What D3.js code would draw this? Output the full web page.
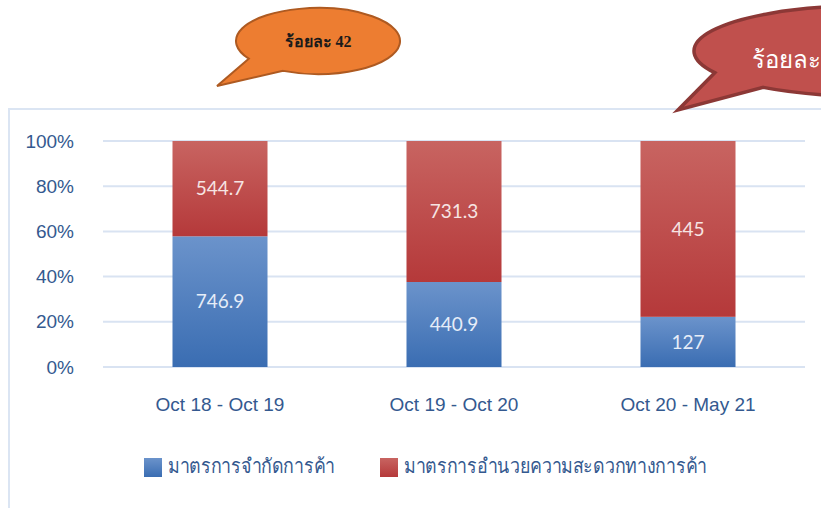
<!DOCTYPE html>
<html>
<head>
<meta charset="utf-8">
<script src="https://cdn.jsdelivr.net/npm/d3@7"></script>
<style>
  body { margin: 0; background: #fff; }
  svg { display: block; font-family: Lato, "Noto Sans", sans-serif; }
</style>
</head>
<body>
<div id="chart"></div>
<script>
// categories and series
const periods = ["Oct 18 - Oct 19", "Oct 19 - Oct 20", "Oct 20 - May 21"];
const restrictValues = [746.9, 440.9, 127];
const facilitateValues = [544.7, 731.3, 445];
const seriesNames = ["มาตรการจำกัดการค้า", "มาตรการอำนวยความสะดวกทางการค้า"];
const yTicks = [0, 0.2, 0.4, 0.6, 0.8, 1];
const calloutLeft = "ร้อยละ 42";
const calloutRight = "ร้อยละ";

const W = 821, H = 508;
const textColor = "#34598f";
const svg = d3.select("#chart").append("svg")
    .attr("width", W)
    .attr("height", H);

const defs = svg.append("defs");
const gradBlue = defs.append("linearGradient").attr("id", "gBlue")
    .attr("x1", 0).attr("y1", 0).attr("x2", 0).attr("y2", 1);
gradBlue.append("stop").attr("offset", "0%").attr("stop-color", "#6b93cb");
gradBlue.append("stop").attr("offset", "100%").attr("stop-color", "#3a6db2");
const gradRed = defs.append("linearGradient").attr("id", "gRed")
    .attr("x1", 0).attr("y1", 0).attr("x2", 0).attr("y2", 1);
gradRed.append("stop").attr("offset", "0%").attr("stop-color", "#c86461");
gradRed.append("stop").attr("offset", "100%").attr("stop-color", "#b5393a");

// chart frame
svg.append("rect")
    .attr("x", 9).attr("y", 109)
    .attr("width", W + 20).attr("height", H)
    .attr("fill", "none")
    .attr("stroke", "#dbe5f3")
    .attr("stroke-width", 2);

// build stacked shares
const data = periods.map((p, i) => {
    const total = restrictValues[i] + facilitateValues[i];
    return {period: p, a: restrictValues[i], b: facilitateValues[i], pa: restrictValues[i] / total};
});

const x = d3.scaleBand()
    .domain(periods)
    .range([103, 805])
    .paddingInner(0.594)
    .paddingOuter(0.297);

const y = d3.scaleLinear()
    .domain([0, 1])
    .range([367, 141]);

// gridlines
svg.append("g")
    .selectAll("line")
    .data(yTicks)
    .join("line")
    .attr("x1", 103).attr("x2", 805)
    .attr("y1", d => y(d)).attr("y2", d => y(d))
    .attr("stroke", "#d9e3f2")
    .attr("stroke-width", 2);

// y axis labels
const yAxis = d3.axisLeft(y).tickValues(yTicks).tickFormat(d3.format(".0%")).tickSize(0).tickPadding(0);
const yg = svg.append("g").attr("transform", "translate(74,0)").call(yAxis);
yg.select(".domain").remove();
yg.selectAll("text")
    .attr("fill", textColor)
    .style("font-size", "19px");

// x axis labels
const xAxis = d3.axisBottom(x).tickSize(0).tickPadding(0);
const xg = svg.append("g").attr("transform", "translate(0,397)").call(xAxis);
xg.select(".domain").remove();
xg.selectAll("text")
    .attr("fill", textColor)
    .style("font-size", "19px");

// bars
const bars = svg.append("g");
bars.selectAll(".bar-a")
    .data(data)
    .join("rect")
    .attr("class", "bar-a")
    .attr("x", d => x(d.period))
    .attr("width", x.bandwidth())
    .attr("y", d => y(d.pa))
    .attr("height", d => y(0) - y(d.pa))
    .attr("fill", "url(#gBlue)");
bars.selectAll(".bar-b")
    .data(data)
    .join("rect")
    .attr("class", "bar-b")
    .attr("x", d => x(d.period))
    .attr("width", x.bandwidth())
    .attr("y", y(1))
    .attr("height", d => y(d.pa) - y(1))
    .attr("fill", "url(#gRed)");

// value labels
const labels = svg.append("g")
    .attr("text-anchor", "middle")
    .style("font-size", "19px");
labels.selectAll(".lab-a")
    .data(data)
    .join("text")
    .attr("x", d => x(d.period) + x.bandwidth() / 2)
    .attr("y", d => (y(0) + y(d.pa)) / 2)
    .attr("dy", "0.35em")
    .attr("fill", "#e6edf8")
    .text(d => d.a);
labels.selectAll(".lab-b")
    .data(data)
    .join("text")
    .attr("x", d => x(d.period) + x.bandwidth() / 2)
    .attr("y", d => (y(1) + y(d.pa)) / 2)
    .attr("dy", "0.35em")
    .attr("fill", "#f6e4e3")
    .text(d => d.b);

// legend
const legend = svg.append("g").attr("transform", "translate(0,458)");
const legendItems = [
    {name: seriesNames[0], fill: "url(#gBlue)", x: 144, w: 167},
    {name: seriesNames[1], fill: "url(#gRed)", x: 380, w: 303}
];
legendItems.forEach(it => {
    legend.append("rect")
        .attr("x", it.x).attr("y", 0)
        .attr("width", 18).attr("height", 19)
        .attr("fill", it.fill);
    legend.append("text")
        .attr("x", it.x + 24).attr("y", 15)
        .attr("fill", textColor)
        .attr("textLength", it.w)
        .attr("lengthAdjust", "spacingAndGlyphs")
        .style("font-size", "20px")
        .text(it.name);
});

// speech bubble callouts
function bubble(cx, cy, rx, ry, a1, a2, tip) {
    const p1 = [cx + rx * Math.cos(a1), cy + ry * Math.sin(a1)];
    const p2 = [cx + rx * Math.cos(a2), cy + ry * Math.sin(a2)];
    const p = d3.path();
    p.moveTo(p1[0], p1[1]);
    p.lineTo(tip[0], tip[1]);
    p.lineTo(p2[0], p2[1]);
    return p.toString() + ` A${rx},${ry} 0 1 0 ${p1[0]},${p1[1]} Z`;
}

svg.append("path")
    .attr("d", bubble(318, 41, 82, 33, Math.PI * 0.82, Math.PI * 0.64, [217, 86]))
    .attr("fill", "#ed7d31")
    .attr("stroke", "#ae5a21")
    .attr("stroke-width", 2);
svg.append("text")
    .attr("x", 318).attr("y", 47)
    .attr("text-anchor", "middle")
    .attr("fill", "#1a1a1a")
    .style("font-family", "'Liberation Serif', serif")
    .style("font-size", "16px")
    .style("font-weight", "bold")
    .text(calloutLeft);

svg.append("path")
    .attr("d", bubble(862, 51, 168, 45, Math.PI * 0.84, Math.PI * 0.7, [678, 110]))
    .attr("fill", "#c0504d")
    .attr("stroke", "#8c3836")
    .attr("stroke-width", 3.5);
svg.append("text")
    .attr("x", 752).attr("y", 68)
    .attr("fill", "#ffffff")
    .style("font-family", "'Liberation Serif', serif")
    .style("font-size", "24px")
    .text(calloutRight);
</script>
</body>
</html>
